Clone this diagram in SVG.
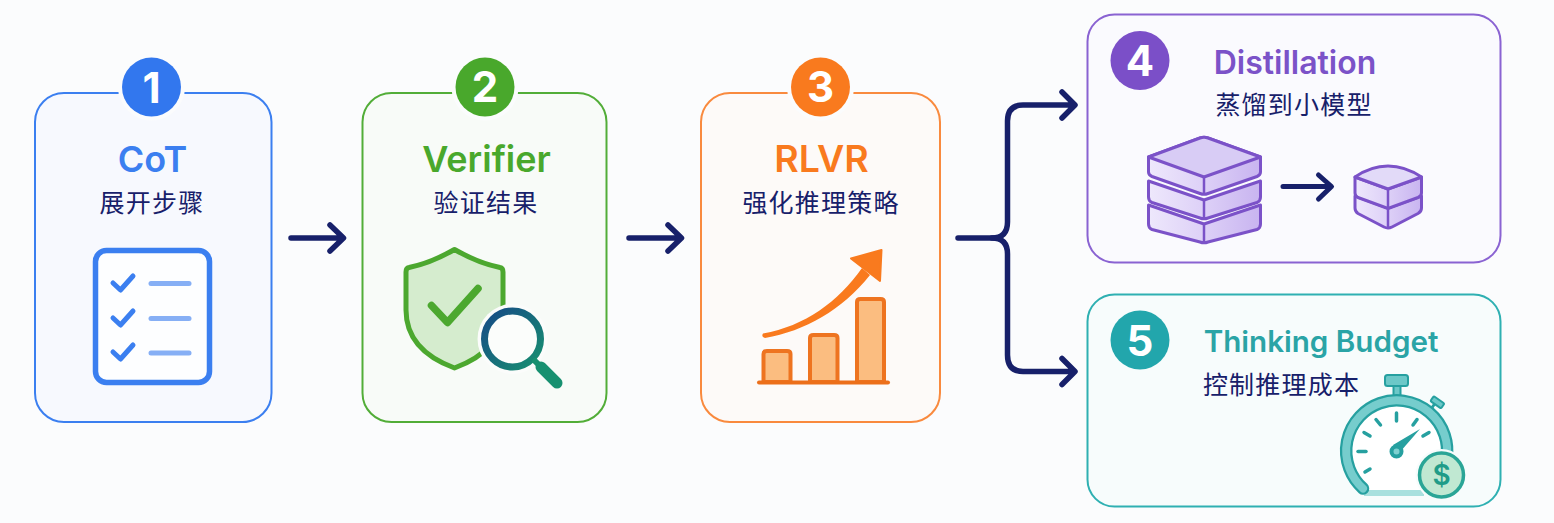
<svg xmlns="http://www.w3.org/2000/svg" width="1554" height="523" viewBox="0 0 1554 523">
<style>
text{text-anchor:middle}
.t{font-family:"Inter","Liberation Sans",sans-serif;font-weight:600}
.z{font-family:"Noto Sans CJK SC",sans-serif;font-size:25px;letter-spacing:1.2px;fill:#17206a}
.n{font-family:"Inter","Liberation Sans",sans-serif;font-weight:700;font-size:42px;fill:#fff}
.card{stroke-width:2}
.ring{fill:#fbfcfd}
.c{fill:none;stroke:#17206a;stroke-width:5.500;stroke-linecap:round;stroke-linejoin:round}
.ln{fill:none;stroke-linecap:round;stroke-linejoin:round}
.sl{stroke:#7b52c8;stroke-width:3;stroke-linejoin:round}
.sd{fill:none;stroke:#7b52c8;stroke-width:2.500}
</style>
<defs>
<linearGradient id="mag" x1="0" y1="0" x2="1" y2="1"><stop offset="0" stop-color="#164a86"/><stop offset="1" stop-color="#179070"/></linearGradient>
<linearGradient id="side" x1="0" y1="0" x2="1" y2="0"><stop offset="0" stop-color="#eee8fc"/><stop offset="0.5" stop-color="#ddd0f7"/><stop offset="1" stop-color="#c8b4f0"/></linearGradient>
</defs>
<rect width="1554" height="523" fill="#fbfcfd"/>
<g id="connectors">
<path class="c" d="M291,238H343M330,225L343.500,238L330,251"/>
<path class="c" d="M629,238H681M668,225L681.500,238L668,251"/>
<path class="c" d="M958,238H992Q1007.500,238 1007.500,222V121Q1007.500,105 1023,105H1073.500M1062,92L1075,105L1062,118"/>
<path class="c" d="M992,238Q1007.500,238 1007.500,254V355Q1007.500,371.500 1023,371.500H1073.500M1062,358.500L1075,371.500L1062,384.500"/>
</g>
<g id="node-1">
<rect class="card" x="35" y="93" width="236.500" height="329" rx="29" fill="#f7f9fe" stroke="#3b7ff0"/>
<circle class="ring" cx="151.500" cy="87" r="33.500"/>
<circle cx="151.500" cy="87" r="29.500" fill="#3277ee"/>
<text class="n" x="151.500" y="102.500">1</text>
<text class="t" x="152.500" y="171.500" font-size="36" fill="#3b7ff0">CoT</text>
<text class="z" x="152" y="212">展开步骤</text>
<rect x="95.500" y="250.500" width="114" height="132" rx="11" fill="#fdfeff" stroke="#3b7ff0" stroke-width="5.500"/>
<g class="ln" stroke="#3b7ff0" stroke-width="5"><path d="M113,283L120.500,290L133,276"/><path d="M113,318L120.500,325L133,311"/><path d="M113,352L120.500,359L133,345"/></g>
<g class="ln" stroke="#86aff5" stroke-width="5"><path d="M151,283.500H189"/><path d="M151,318.500H189"/><path d="M151,353H189"/></g>
</g>
<g id="node-2">
<rect class="card" x="362.500" y="93" width="244" height="329" rx="29" fill="#f8fbf8" stroke="#52ad38"/>
<circle class="ring" cx="485" cy="87" r="33.500"/>
<circle cx="485" cy="87" r="29.500" fill="#49a82c"/>
<text class="n" x="485" y="102">2</text>
<text class="t" x="486.500" y="171.500" font-size="36" fill="#49a82c">Verifier</text>
<text class="z" x="486" y="212">验证结果</text>
<path d="M454.500,249.500Q478,263 500,267.500Q503,268 503,272V310Q503,350 454.500,368Q406,350 406,310V272Q406,268 409,267.500Q431,263 454.500,249.500Z" fill="#d5ecce" stroke="#4ca82f" stroke-width="5" stroke-linejoin="round"/>
<path class="ln" d="M431.500,305.500L447.500,322.500L478,288.500" stroke="#4ca82f" stroke-width="7.500"/>
<circle cx="512.500" cy="339" r="35" fill="#fbfcfb"/>
<circle cx="512.500" cy="339" r="28" fill="#fbfdfb" stroke="url(#mag)" stroke-width="7"/>
<path class="ln" d="M535,361L541,367" stroke="#179070" stroke-width="6"/>
<path class="ln" d="M541,367L557,383" stroke="#179070" stroke-width="11"/>
</g>
<g id="node-3">
<rect class="card" x="701" y="93" width="239" height="329" rx="29" fill="#fdfaf8" stroke="#f98a3e"/>
<circle class="ring" cx="820.500" cy="87" r="33.500"/>
<circle cx="820.500" cy="87" r="29.500" fill="#f97a1e"/>
<text class="n" x="820.500" y="102">3</text>
<text class="t" x="821.500" y="171.500" font-size="37.500" fill="#f97a1e">RLVR</text>
<text class="z" x="821" y="212">强化推理策略</text>
<path d="M763,333.500C805,326 838,302 862,268L870,275C842,310 805,331 765,338Q761,337 763,333.500Z" fill="#f97a1e"/>
<path d="M881.500,250L851,258.500L880,281Z" fill="#f97a1e" stroke="#f97a1e" stroke-width="2" stroke-linejoin="round"/>
<g fill="#fbbd80" stroke="#ee7420" stroke-width="4" stroke-linejoin="round">
<path d="M763.500,382V354Q763.500,351 767,351H787Q790.500,351 790.500,354V382Z"/>
<path d="M810,382V338Q810,335 813.500,335H834Q837.500,335 837.500,338V382Z"/>
<path d="M857,382V302Q857,299 860.500,299H880.500Q884,299 884,302V382Z"/>
</g>
<path class="ln" d="M759,382.500H888" stroke="#ec6f1a" stroke-width="4"/>
</g>
<g id="node-4">
<rect class="card" x="1087.500" y="14.500" width="413" height="248" rx="27" fill="#fafafe" stroke="#8a63d2"/>
<circle cx="1140" cy="60.500" r="29.500" fill="#7b4fc8"/>
<text class="n" x="1140" y="76">4</text>
<text class="t" x="1295" y="73.500" font-size="32" fill="#7b52c8">Distillation</text>
<text class="z" x="1294" y="114">蒸馏到小模型</text>
<path class="sl" d="M1148.500,205L1204,224L1260.500,205V224Q1260.500,228 1257,229.500L1208,242Q1204,243.500 1200,242L1152,229.500Q1148.500,228 1148.500,224Z" fill="url(#side)"/>
<path class="sd" d="M1204,224V243"/>
<path class="sl" d="M1148.500,181L1204,200L1260.500,181V197Q1260.500,201 1257,202.500L1208,218Q1204,219.500 1200,218L1152,202.500Q1148.500,201 1148.500,197Z" fill="url(#side)"/>
<path class="sd" d="M1204,200V219"/>
<path class="sl" d="M1148.500,157L1200,138Q1204,136.500 1208,138L1260.500,157V172Q1260.500,175 1257,176.500L1208,193.500Q1204,195 1200,193.500L1152,176.500Q1148.500,175 1148.500,172Z" fill="url(#side)"/>
<path class="sl" d="M1148.500,157L1200,138Q1204,136.500 1208,138L1260.500,157L1204,177Z" fill="#d8ccf5"/>
<path class="sd" d="M1204,177V195"/>
<path class="c" style="stroke-width:5" d="M1283,186.500H1331M1318.500,175L1331.500,186.500L1318.500,199"/>
<path class="sl" d="M1355,196L1388,208L1421.500,196V208Q1421.500,211.500 1418,213.500L1392,227Q1388,229 1384,227L1358,213.500Q1355,211.500 1355,208Z" fill="url(#side)"/>
<path class="sl" d="M1355,177L1388,189L1421.500,177V193Q1421.500,196 1418,197.500L1388,208.500L1358,197.500Q1355,196 1355,193Z" fill="url(#side)"/>
<path class="sl" d="M1355,177Q1371,166 1388,166Q1405,166 1421.500,177L1388,189Z" fill="#e2daf8"/>
<path class="sd" d="M1388,189V228"/>
</g>
<g id="node-5">
<rect class="card" x="1087.500" y="294.500" width="413" height="212" rx="27" fill="#f7fcfc" stroke="#2fb0b2"/>
<circle cx="1140" cy="340" r="29.500" fill="#22a6ac"/>
<text class="n" x="1140" y="355.500">5</text>
<text class="t" x="1321" y="351.500" font-size="29.600" fill="#2aa4a6">Thinking Budget</text>
<text class="z" x="1281.500" y="394">控制推理成本</text>
<g>
<path d="M1393.500,386H1400.500V396H1393.500Z" fill="#6cc8c8" stroke="#26a0a0" stroke-width="2"/>
<rect x="1385" y="375" width="23" height="11" rx="2.500" fill="#6cc8c8" stroke="#26a0a0" stroke-width="2"/>
<path d="M1431,409L1436,402" stroke="#26a0a0" stroke-width="3"/>
<rect x="1431" y="399" width="13" height="6" rx="1.500" transform="rotate(35 1437 402)" fill="#6cc8c8" stroke="#26a0a0" stroke-width="2"/>
<path d="M1363,488.500A50.500,50.500 0 1 1 1446.500,459L1440,490L1424,493H1364Z" fill="#fff"/>
<path d="M1364,493H1424" stroke="#a8e0de" stroke-width="6" fill="none"/>
<path d="M1363,488.500A50.500,50.500 0 1 1 1446.500,459" fill="none" stroke="#26a0a0" stroke-width="12.500" stroke-linecap="round"/>
<path d="M1363,488.500A50.500,50.500 0 1 1 1446.500,459" fill="none" stroke="#76cdcd" stroke-width="8" stroke-linecap="round"/>
<g class="ln" stroke="#26a0a0" stroke-width="3.500">
<path d="M1396.500,413V421"/><path d="M1376,419.500L1380.500,425"/><path d="M1417,419.500L1413,425"/><path d="M1364,432.500L1370,436"/><path d="M1429,432.500L1423,436"/><path d="M1358,451.500H1366"/><path d="M1365,472L1370,469"/>
</g>
<path d="M1393,445L1420,429L1400,452Z" fill="#26a0a0"/>
<circle cx="1396.500" cy="451.500" r="5" fill="#7fd0d0" stroke="#26a0a0" stroke-width="4"/>
<circle cx="1441.500" cy="475" r="26" fill="#f7fcfc"/>
<circle cx="1441.500" cy="475" r="22" fill="#c0e8d2" stroke="#2aa596" stroke-width="3.500"/>
<text class="t" x="1441.500" y="485" font-size="28" fill="#1f9c88" font-weight="400">$</text>
</g>
</g>
</svg>
